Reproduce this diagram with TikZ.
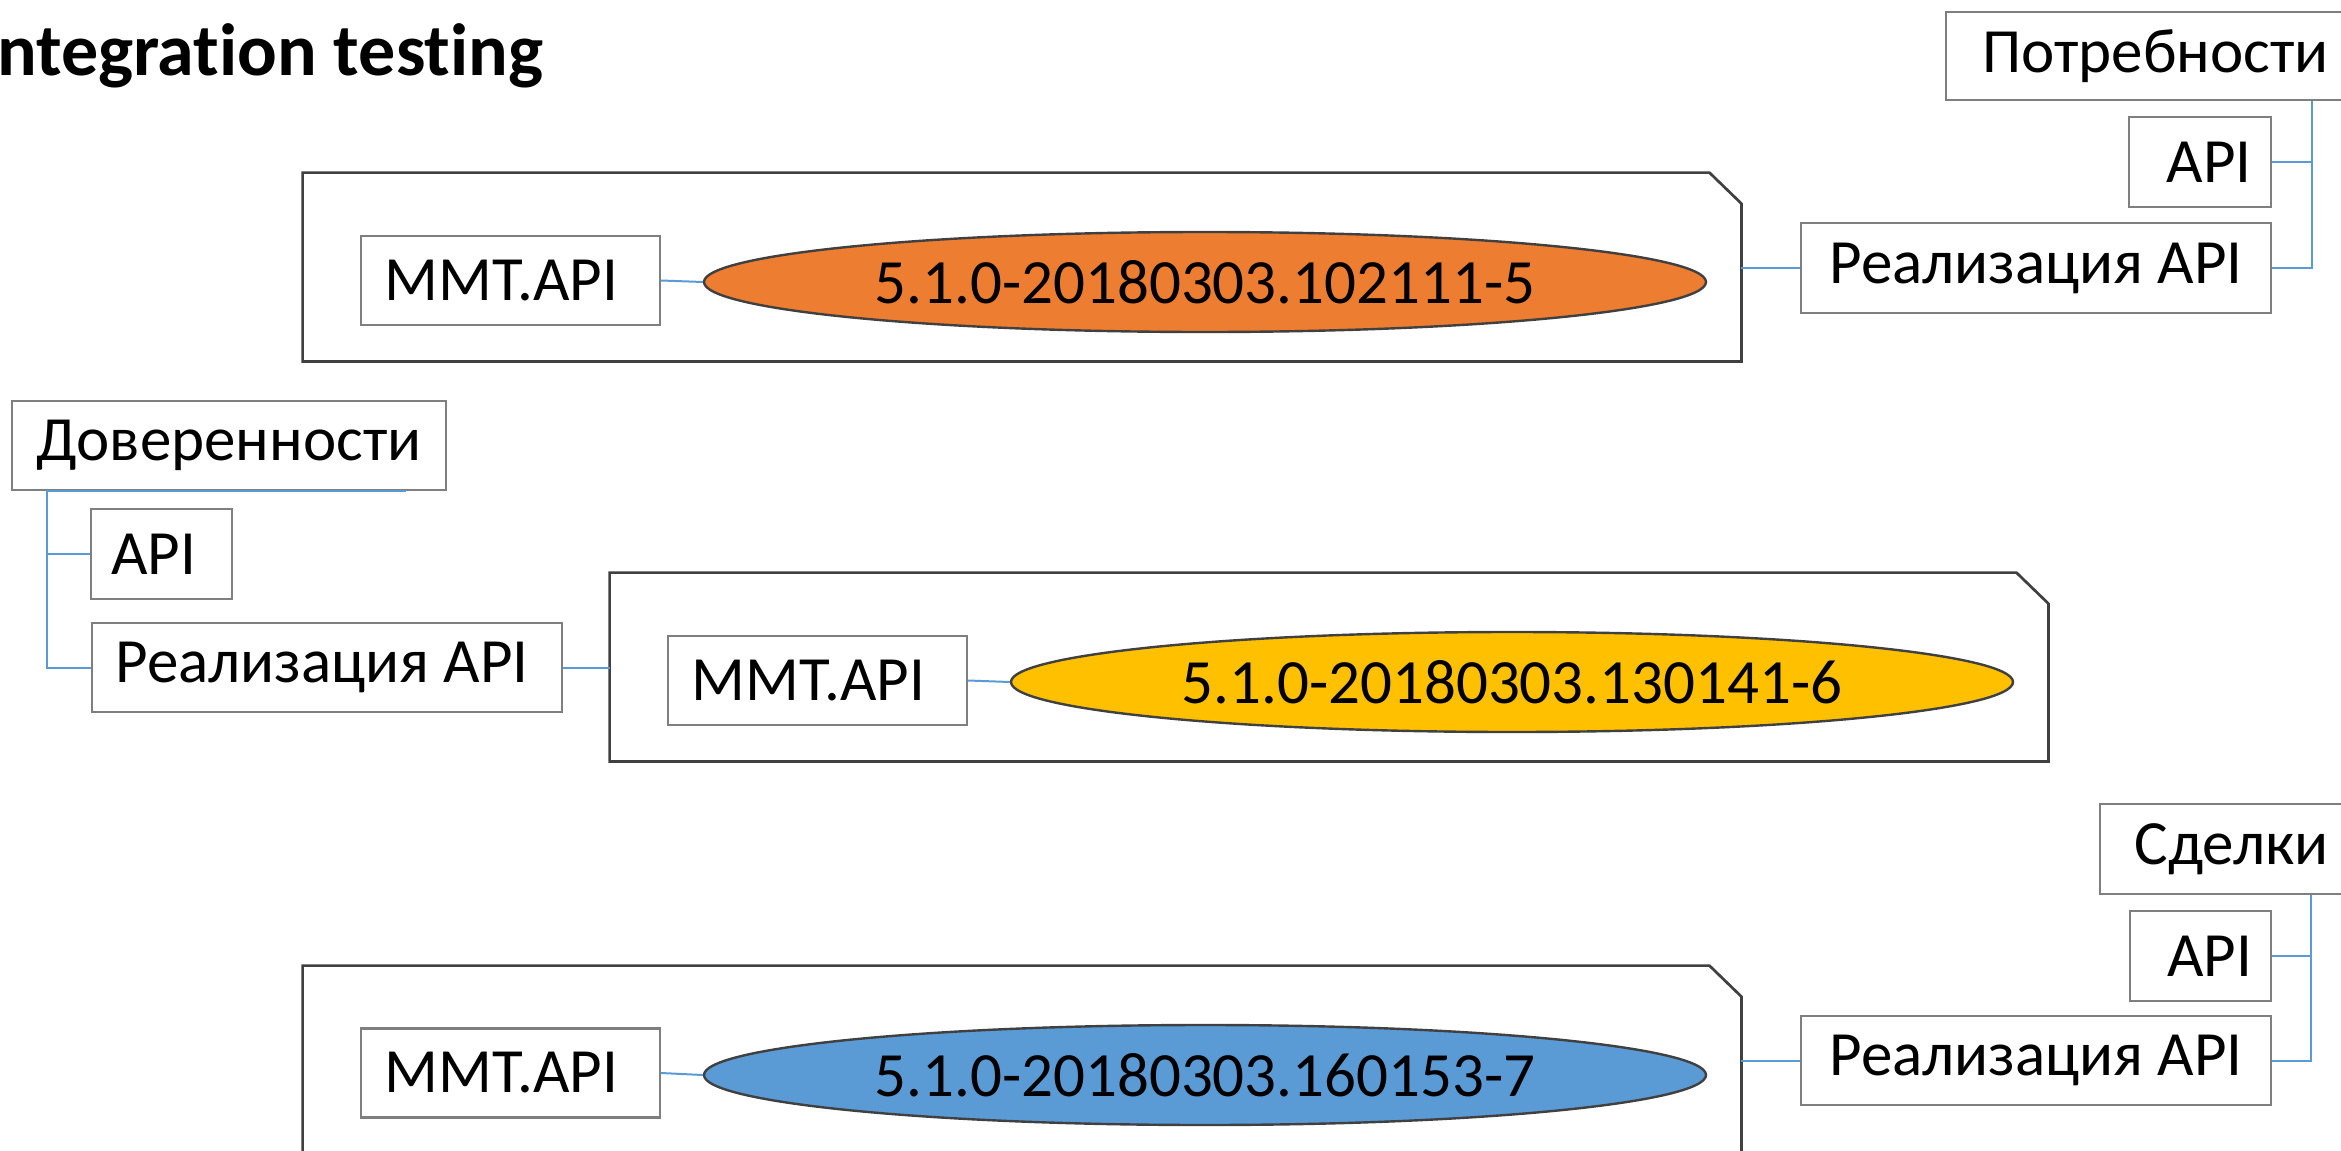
\documentclass[tikz,border=0pt]{standalone}
\usepackage{fontspec}
\setmainfont{Carlito}[Ligatures=NoCommon]
\usetikzlibrary{shapes.geometric}
\definecolor{boxgray}{HTML}{7F7F7F}
\definecolor{darkline}{HTML}{404040}
\definecolor{connblue}{HTML}{5B9BD5}
\definecolor{orangeF}{HTML}{ED7D31}
\definecolor{yellowF}{HTML}{FFC000}
\definecolor{blueF}{HTML}{5B9BD5}
\begin{document}
\begin{tikzpicture}[x=0.5pt,y=-0.5pt,
  lbl/.style={draw=boxgray, line width=1.1pt, fill=white, inner sep=0pt,
    font=\fontsize{31.5}{38}\selectfont, text=black},
  cont/.style={rectangle, minimum width=719pt, minimum height=94pt, inner sep=0pt},
  contline/.style={draw=darkline, line width=1.35pt, fill=white, line join=miter},
  ver/.style={ellipse, draw=darkline, line width=1.2pt, minimum width=501pt,
    minimum height=50pt, inner sep=0pt, font=\fontsize{31.5}{38}\selectfont},
  link/.style={draw=connblue, line width=1pt}]
\useasboundingbox (0,0) rectangle (2341,1151);

\node[anchor=base west, inner sep=0pt, font=\bfseries\fontsize{37}{44}\selectfont] (title) at (-23,75) {Integration testing};

% containers (clipped top-right corner)
\node[cont] (c1) at (1022,267) {};
\node[cont] (c2) at (1329,667) {};
\node[cont] (c3) at (1022,1060) {};
\foreach \c in {c1,c2,c3}{
  \path[contline] (\c.south west) -- (\c.north west) -- ([xshift=-16pt]\c.north east)
    -- ([yshift=-15.5pt]\c.north east) -- (\c.south east) -- cycle;
}

% inner items
\node[lbl, minimum width=149.5pt, minimum height=44.5pt] (m1) at (510.5,280.5) {MMT.API\kern9pt};
\node[ver, fill=orangeF] (e1) at (1205,282) {5.1.0-20180303.102111-5};
\node[lbl, minimum width=149.5pt, minimum height=44.5pt] (m2) at (817.5,680.5) {MMT.API\kern9pt};
\node[ver, fill=yellowF] (e2) at (1512,682) {5.1.0-20180303.130141-6};
\node[lbl, minimum width=149.5pt, minimum height=44.5pt] (m3) at (510.5,1073) {MMT.API\kern9pt};
\node[ver, fill=blueF] (e3) at (1205,1075) {5.1.0-20180303.160153-7};

% top-right tree
\node[lbl, minimum width=209.5pt, minimum height=44pt] (p1) at (2155.5,56) {Потребности};
\node[lbl, minimum width=71pt, minimum height=45pt] (a1) at (2200,162) {\kern9pt API};
\node[lbl, minimum width=235pt, minimum height=45pt] (r1) at (2036,268) {Реализация API};

% middle-left tree
\node[lbl, minimum width=217pt, minimum height=44.5pt] (d2) at (229,445.5) {Доверенности};
\node[lbl, minimum width=70.5pt, minimum height=45pt] (a2) at (161.5,554) {API\kern8pt};
\node[lbl, minimum width=235pt, minimum height=44.5pt] (r2) at (327,667.5) {Реализация API\kern5pt};

% bottom-right tree
\node[lbl, minimum width=131.5pt, minimum height=45pt] (s3) at (2231.5,849) {Сделки};
\node[lbl, minimum width=70.5pt, minimum height=45pt] (a3) at (2200.5,956) {\kern9pt API};
\node[lbl, minimum width=235pt, minimum height=44.5pt] (r3) at (2036,1060.5) {Реализация API};

% connectors group 1
\draw[link] (m1.east) -- (e1.west);
\draw[link] (c1.east |- r1.west) -- (r1.west);
\coordinate (t1) at ([xshift=20pt]r1.east);
\draw[link] (t1 |- p1.south) -- (t1) -- (r1.east);
\draw[link] (a1.east) -- (t1 |- a1.east);

% connectors group 2
\draw[link] (m2.east) -- (e2.west);
\coordinate (t2) at ([xshift=-22pt]r2.west);
\coordinate (d2end) at ([xshift=-20.5pt]d2.south east);
\draw[link] (d2end) -- (t2 |- d2.south) -- (t2) -- (r2.west);
\draw[link] (a2.west) -- (t2 |- a2.west);
\draw[link] (r2.east) -- (r2.east -| c2.west);

% connectors group 3
\draw[link] (m3.east) -- (e3.west);
\draw[link] (c3.east |- r3.west) -- (r3.west);
\coordinate (t3) at ([xshift=19.5pt]r3.east);
\draw[link] (t3 |- s3.south) -- (t3) -- (r3.east);
\draw[link] (a3.east) -- (t3 |- a3.east);
\end{tikzpicture}
\end{document}
